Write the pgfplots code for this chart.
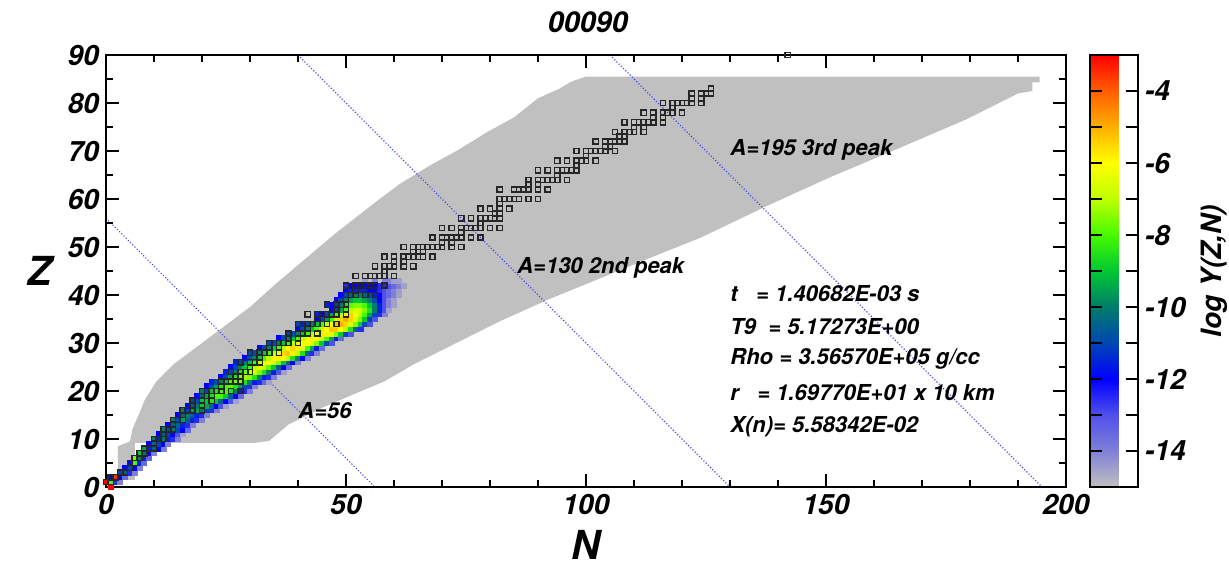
\documentclass[border=0pt]{standalone}
\usepackage{pgfplots}
\pgfplotsset{compat=1.18}
\usepackage{fontspec}
\setmainfont{TeX Gyre Heros}
\definecolor{netgray}{RGB}{192,192,192}
\newcommand{\txt}{\bfseries\itshape\fontsize{11}{13}\selectfont}
\begin{document}
\begin{tikzpicture}[font=\bfseries\itshape]
\begin{axis}[
 name=main,
 scale only axis, width=480pt, height=216pt,
 xmin=0,xmax=200,ymin=0,ymax=90,
 clip=false, axis on top,
 axis line style={line width=0.8pt},
 every tick/.style={black, line width=0.8pt},
 tick align=inside,
 xtick={0,50,...,200}, minor xtick={10,20,...,190},
 ytick={0,10,...,90}, minor ytick={5,15,...,85},
 major tick length=6.5pt, minor tick length=3.5pt,
 /pgf/number format/assume math mode=true,
 ticklabel style={font=\bfseries\itshape\fontsize{14}{16}\selectfont},
 xlabel={N}, ylabel={Z},
 label style={font=\bfseries\itshape\fontsize{20}{22}\selectfont},
 xlabel style={at={(axis description cs:0.5,-0.134)},anchor=center},
 ylabel style={at={(axis description cs:-0.069,0.5)},anchor=center,rotate=-90},
 title={00090},
 every axis title shift=0pt,
 title style={at={(axis description cs:0.502,1.076)},anchor=center,font=\bfseries\itshape\fontsize{14.4}{16}\selectfont},
 colormap={nucl}{rgb255(0cm)=(192,192,192); rgb255(1cm)=(128,128,215); rgb255(2cm)=(80,80,235); rgb255(3cm)=(0,0,255); rgb255(4cm)=(0,70,180); rgb255(5cm)=(0,125,105); rgb255(6cm)=(0,200,50); rgb255(7cm)=(70,250,0); rgb255(8cm)=(190,255,0); rgb255(9cm)=(255,255,0); rgb255(10cm)=(255,175,0); rgb255(11cm)=(255,95,0); rgb255(12cm)=(255,0,0)},
 point meta min=-15, point meta max=-3,
 colorbar,
 colorbar style={
   at={(parent axis.north east)}, anchor=north west, xshift=3.5pt,
   scale only axis, width=24pt, height=216pt,
   axis line style={line width=0.8pt},
   every tick/.style={black, line width=0.8pt},
   tick align=inside,
   ytick={-14,-12,...,-4}, minor ytick={-13,-11,...,-5},
   major tick length=6pt, minor tick length=6pt,
   ytick pos=both, yticklabel pos=right,
   /pgf/number format/assume math mode=true,
   yticklabel style={font=\bfseries\itshape\fontsize{14}{16}\selectfont},
   ylabel={log Y(Z,N)},
   ylabel style={at={(axis description cs:2.58,0.5)},anchor=center,font=\bfseries\itshape\fontsize{14}{16}\selectfont},
 },
]
% network (gray region)
\addplot[fill=netgray, draw=none] coordinates {
 (2.5,1.5) (2.5,8.5) (5,9.5) (5.5,12) (7,15.5) (8,18) (10.5,22) (14,25.5) (18,28.5)
 (22,31.5) (26,34.5) (30,37.5) (35,42) (39.7,46) (48,53) (57,60) (61,63)
 (67.5,67) (73,70) (79.5,74) (85,77) (90,81) (94.5,83) (97,84.5) (100,85.5)
 (194.5,85.5) (194.5,84.3) (193,84.3) (193,82.5) (190,82) (179,76.5) (165,70.5)
 (151,64.6) (138,58.7) (124,52) (114,48) (103,43.5) (92,39) (82,34.5) (70,28.5)
 (64,25.5) (58,22) (52,19.5) (45,16.5) (38,13) (34,9.6) (31,9.2) (6,9.2) (6,1.5)
} -- cycle;
% lines of constant A
\addplot[blue!75, densely dotted, line width=0.55pt] coordinates {(0,56) (56,0)};
\addplot[blue!75, densely dotted, line width=0.55pt] coordinates {(40,90) (130,0)};
\addplot[blue!75, densely dotted, line width=0.55pt] coordinates {(105,90) (195,0)};
% abundances log Y(Z,N)
\addplot[scatter, only marks, mark=square*, mark size=1.25pt, scatter src=explicit,
  scatter/use mapped color={draw=mapped color, fill=mapped color}] coordinates {
 (1,0)[-3]
 (0,1)[-3] (1,1)[-8] (2,1)[-12.5] (3,1)[-14]
 (1,2)[-12] (2,2)[-3.5] (3,2)[-12] (4,2)[-13.5]
 (3,3)[-11] (4,3)[-10.5] (5,3)[-12.5] (6,3)[-14]
 (4,4)[-12] (5,4)[-11] (6,4)[-12] (7,4)[-14]
 (5,5)[-12] (6,5)[-8] (7,5)[-11.5] (8,5)[-13.5]
 (6,6)[-7.5] (7,6)[-10] (8,6)[-11.5] (9,6)[-13.5]
 (7,7)[-9] (8,7)[-10] (9,7)[-12] (10,7)[-14]
 (8,8)[-9.5] (9,8)[-11.5] (10,8)[-10.5] (11,8)[-12] (12,8)[-14]
 (9,9)[-12] (10,9)[-10.5] (11,9)[-11] (12,9)[-12] (13,9)[-14]
 (10,10)[-10] (11,10)[-11.5] (12,10)[-10] (13,10)[-11.5] (14,10)[-12.5] (15,10)[-14]
 (11,11)[-12] (12,11)[-10.5] (13,11)[-11] (14,11)[-12] (15,11)[-13] (16,11)[-14.5]
 (12,12)[-10] (13,12)[-11] (14,12)[-10] (15,12)[-11] (16,12)[-12] (17,12)[-13.5]
 (13,13)[-12] (14,13)[-10.5] (15,13)[-10.5] (16,13)[-11.5] (17,13)[-12.5] (18,13)[-14]
 (14,14)[-10] (15,14)[-11] (16,14)[-9.5] (17,14)[-10.5] (18,14)[-11.5] (19,14)[-12.5] (20,14)[-14]
 (15,15)[-12] (16,15)[-10.5] (17,15)[-10] (18,15)[-10.5] (19,15)[-11.5] (20,15)[-12.5] (21,15)[-14]
 (16,16)[-10] (17,16)[-11] (18,16)[-9.5] (19,16)[-9.5] (20,16)[-10] (21,16)[-11] (22,16)[-12.5] (23,16)[-14]
 (17,17)[-12] (18,17)[-10.5] (19,17)[-10] (20,17)[-9] (21,17)[-9.5] (22,17)[-10.5] (23,17)[-12] (24,17)[-13] (25,17)[-14.5]
 (18,18)[-11] (19,18)[-11] (20,18)[-9] (21,18)[-9] (22,18)[-8.5] (23,18)[-9] (24,18)[-10.5] (25,18)[-12] (26,18)[-13] (27,18)[-14.5]
 (19,19)[-12] (20,19)[-10.5] (21,19)[-9.5] (22,19)[-8.5] (23,19)[-8] (24,19)[-8] (25,19)[-9] (26,19)[-10.5] (27,19)[-12] (28,19)[-13.5]
 (20,20)[-10] (21,20)[-11] (22,20)[-9] (23,20)[-8.5] (24,20)[-8] (25,20)[-8] (26,20)[-8.5] (27,20)[-10] (28,20)[-11.5] (29,20)[-12.5] (30,20)[-14]
 (21,21)[-12] (22,21)[-11] (23,21)[-9.5] (24,21)[-8.5] (25,21)[-8] (26,21)[-7.8] (27,21)[-8.5] (28,21)[-9.5] (29,21)[-11] (30,21)[-12.5] (31,21)[-14]
 (22,22)[-11.5] (23,22)[-11] (24,22)[-10] (25,22)[-9] (26,22)[-8] (27,22)[-7.5] (28,22)[-7.5] (29,22)[-8.5] (30,22)[-10] (31,22)[-11.5] (32,22)[-12.5] (33,22)[-13.5] (34,22)[-14.5]
 (24,23)[-12] (25,23)[-11] (26,23)[-9.5] (27,23)[-8.5] (28,23)[-7.5] (29,23)[-7.2] (30,23)[-7.5] (31,23)[-8.5] (32,23)[-10] (33,23)[-11.5] (34,23)[-12.5] (35,23)[-14]
 (25,24)[-11.5] (26,24)[-11] (27,24)[-10] (28,24)[-8.5] (29,24)[-7.5] (30,24)[-7] (31,24)[-6.8] (32,24)[-7.5] (33,24)[-8.5] (34,24)[-10] (35,24)[-11.5] (36,24)[-13] (37,24)[-14.5]
 (26,25)[-12] (27,25)[-11] (28,25)[-10] (29,25)[-9] (30,25)[-8] (31,25)[-7] (32,25)[-6.5] (33,25)[-6.8] (34,25)[-7.8] (35,25)[-9] (36,25)[-10.5] (37,25)[-12] (38,25)[-13.5]
 (27,26)[-11.5] (28,26)[-11] (29,26)[-10] (30,26)[-9] (31,26)[-8] (32,26)[-7] (33,26)[-6.3] (34,26)[-6] (35,26)[-6.5] (36,26)[-7.5] (37,26)[-9] (38,26)[-10.5] (39,26)[-12] (40,26)[-14]
 (29,27)[-12] (30,27)[-11] (31,27)[-10] (32,27)[-9] (33,27)[-8] (34,27)[-7] (35,27)[-6.2] (36,27)[-5.8] (37,27)[-6] (38,27)[-7] (39,27)[-8.5] (40,27)[-10] (41,27)[-12] (42,27)[-14]
 (30,28)[-11] (31,28)[-11] (32,28)[-10] (33,28)[-9] (34,28)[-8] (35,28)[-7] (36,28)[-6.3] (37,28)[-5.5] (38,28)[-5.3] (39,28)[-5.8] (40,28)[-7] (41,28)[-8.5] (42,28)[-10.5] (43,28)[-12.5] (44,28)[-14]
 (32,29)[-12] (33,29)[-11] (34,29)[-10] (35,29)[-9] (36,29)[-8] (37,29)[-7] (38,29)[-6] (39,29)[-5.5] (40,29)[-5.8] (41,29)[-6.5] (42,29)[-8] (43,29)[-9.5] (44,29)[-11.5] (45,29)[-13.5]
 (34,30)[-11] (35,30)[-11] (36,30)[-10] (37,30)[-9] (38,30)[-8] (39,30)[-7] (40,30)[-6.3] (41,30)[-6] (42,30)[-6] (43,30)[-6.5] (44,30)[-7.5] (45,30)[-9] (46,30)[-11] (47,30)[-13]
 (36,31)[-12] (37,31)[-11] (38,31)[-10] (39,31)[-9] (40,31)[-8] (41,31)[-7] (42,31)[-6.3] (43,31)[-5.8] (44,31)[-6] (45,31)[-6.8] (46,31)[-8] (47,31)[-9.5] (48,31)[-11.5] (49,31)[-13.5]
 (38,32)[-11] (39,32)[-11] (40,32)[-10] (41,32)[-9] (42,32)[-8] (43,32)[-7] (44,32)[-6.2] (45,32)[-5.8] (46,32)[-5.8] (47,32)[-6.5] (48,32)[-7.5] (49,32)[-9] (50,32)[-11] (51,32)[-13]
 (40,33)[-12] (41,33)[-11] (42,33)[-10] (43,33)[-9] (44,33)[-8] (45,33)[-7] (46,33)[-6] (47,33)[-5.3] (48,33)[-5.3] (49,33)[-6] (50,33)[-7] (51,33)[-8.5] (52,33)[-10.5] (53,33)[-12.5]
 (40,34)[-11] (41,34)[-11.5] (42,34)[-11] (43,34)[-10] (44,34)[-9] (45,34)[-8] (46,34)[-7] (47,34)[-6] (48,34)[-5.2] (49,34)[-5] (50,34)[-5.5] (51,34)[-6.5] (52,34)[-7.5] (53,34)[-9] (54,34)[-11] (55,34)[-13]
 (44,35)[-12] (45,35)[-11] (46,35)[-9.5] (47,35)[-8] (48,35)[-6.8] (49,35)[-5.5] (50,35)[-5] (51,35)[-5.5] (52,35)[-6.5] (53,35)[-7.5] (54,35)[-9] (55,35)[-11] (56,35)[-13]
 (44,36)[-11.5] (45,36)[-12] (46,36)[-11] (47,36)[-9.5] (48,36)[-8] (49,36)[-6.8] (50,36)[-5.8] (51,36)[-5.5] (52,36)[-6] (53,36)[-7] (54,36)[-8] (55,36)[-9.5] (56,36)[-11] (57,36)[-12.5] (58,36)[-14]
 (47,37)[-12] (48,37)[-11] (49,37)[-9.5] (50,37)[-8] (51,37)[-7] (52,37)[-6.5] (53,37)[-6.8] (54,37)[-7.5] (55,37)[-8.5] (56,37)[-10] (57,37)[-11.5] (58,37)[-13] (59,37)[-14.5]
 (46,38)[-11.5] (47,38)[-12] (48,38)[-11] (49,38)[-10] (50,38)[-8.5] (51,38)[-7.8] (52,38)[-7.5] (53,38)[-7.5] (54,38)[-8] (55,38)[-9] (56,38)[-10] (57,38)[-11.5] (58,38)[-13] (59,38)[-14] (60,38)[-14.5]
 (48,39)[-12] (49,39)[-11] (50,39)[-10] (51,39)[-9.5] (52,39)[-9] (53,39)[-9] (54,39)[-9.5] (55,39)[-10] (56,39)[-11] (57,39)[-12] (58,39)[-13] (59,39)[-14] (60,39)[-14.5]
 (49,40)[-12] (50,40)[-11] (51,40)[-10.5] (52,40)[-10] (53,40)[-10] (54,40)[-10.5] (55,40)[-11] (56,40)[-11.5] (57,40)[-12] (58,40)[-13] (59,40)[-13.5] (60,40)[-14] (61,40)[-14.5]
 (50,41)[-12] (51,41)[-11.5] (52,41)[-11.5] (53,41)[-11.5] (54,41)[-11.5] (55,41)[-12] (56,41)[-12] (57,41)[-12.5] (58,41)[-13] (59,41)[-13.5] (60,41)[-14] (61,41)[-14.5]
 (50,42)[-12.5] (51,42)[-12] (52,42)[-12] (53,42)[-12] (54,42)[-12] (55,42)[-12] (56,42)[-12] (57,42)[-12.5] (58,42)[-12.5] (59,42)[-13] (60,42)[-13.5] (61,42)[-14] (62,42)[-14.5]
 (54,43)[-14.5] (56,43)[-14] (58,43)[-14] (59,43)[-14] (60,43)[-14.5] (61,43)[-14.5]
};
% stable nuclei
\addplot[only marks, mark=square, mark size=1.3pt, draw=black!85, mark options={line width=0.7pt}] coordinates {
 (0,1) (1,1) (1,2) (2,2) (3,3) (4,3) (5,4) (5,5) (6,5) (6,6) (7,6) (7,7) (8,7)
 (8,8) (9,8) (10,8) (10,9) (10,10) (11,10) (12,10) (12,11) (12,12) (13,12) (14,12)
 (14,13) (14,14) (15,14) (16,14) (16,15) (16,16) (17,16) (18,16) (20,16) (18,17) (20,17)
 (18,18) (20,18) (22,18) (20,19) (21,19) (22,19)
 (20,20) (22,20) (23,20) (24,20) (26,20) (28,20) (24,21)
 (24,22) (25,22) (26,22) (27,22) (28,22) (27,23) (28,23)
 (26,24) (28,24) (29,24) (30,24) (30,25) (28,26) (30,26) (31,26) (32,26) (32,27)
 (30,28) (32,28) (33,28) (34,28) (36,28) (34,29) (36,29)
 (34,30) (36,30) (37,30) (38,30) (40,30) (38,31) (40,31)
 (38,32) (40,32) (41,32) (42,32) (44,32) (42,33)
 (40,34) (42,34) (43,34) (44,34) (46,34) (48,34) (44,35) (46,35)
 (42,36) (44,36) (46,36) (47,36) (48,36) (50,36) (48,37) (50,37)
 (46,38) (48,38) (49,38) (50,38) (50,39)
 (50,40) (51,40) (52,40) (54,40) (56,40) (52,41)
 (50,42) (52,42) (53,42) (54,42) (55,42) (56,42) (58,42)
 (52,44) (54,44) (55,44) (56,44) (57,44) (58,44) (60,44) (58,45)
 (56,46) (58,46) (59,46) (60,46) (62,46) (64,46) (60,47) (62,47)
 (58,48) (60,48) (62,48) (63,48) (64,48) (65,48) (66,48) (68,48) (64,49) (66,49)
 (62,50) (64,50) (65,50) (66,50) (67,50) (68,50) (69,50) (70,50) (72,50) (74,50)
 (70,51) (72,51)
 (68,52) (70,52) (71,52) (72,52) (73,52) (74,52) (76,52) (78,52) (74,53)
 (70,54) (72,54) (74,54) (75,54) (76,54) (77,54) (78,54) (80,54) (82,54) (78,55)
 (74,56) (76,56) (78,56) (79,56) (80,56) (81,56) (82,56) (81,57) (82,57)
 (78,58) (80,58) (82,58) (84,58) (82,59)
 (82,60) (83,60) (84,60) (85,60) (86,60) (88,60) (90,60)
 (82,62) (85,62) (86,62) (87,62) (88,62) (90,62) (92,62) (88,63) (90,63)
 (88,64) (90,64) (91,64) (92,64) (93,64) (94,64) (96,64) (94,65)
 (90,66) (92,66) (94,66) (95,66) (96,66) (97,66) (98,66) (98,67)
 (94,68) (96,68) (98,68) (99,68) (100,68) (102,68) (100,69)
 (98,70) (100,70) (101,70) (102,70) (103,70) (104,70) (106,70) (104,71) (105,71)
 (102,72) (104,72) (105,72) (106,72) (107,72) (108,72) (107,73) (108,73)
 (106,74) (108,74) (109,74) (110,74) (112,74) (110,75) (112,75)
 (108,76) (110,76) (111,76) (112,76) (113,76) (114,76) (116,76) (114,77) (116,77)
 (112,78) (114,78) (116,78) (117,78) (118,78) (120,78) (118,79)
 (116,80) (118,80) (119,80) (120,80) (121,80) (122,80) (124,80) (122,81) (124,81)
 (122,82) (124,82) (125,82) (126,82) (126,83) (142,90)
};
% annotations
\node[anchor=west, inner sep=0pt, font=\txt] at (axis cs:130,70.2) {A=195 3rd peak};
\node[anchor=west, inner sep=0pt, font=\txt] at (axis cs:85.6,45.6) {A=130 2nd peak};
\node[anchor=west, inner sep=0pt, font=\txt] at (axis cs:40,16) {A=56};
\node[anchor=west, inner sep=0pt, font=\txt] at (axis cs:130,40.4) {t\ \ \ = 1.40682E-03 s};
\node[anchor=west, inner sep=0pt, font=\txt] at (axis cs:130,33.5) {T9\ \ = 5.17273E+00};
\node[anchor=west, inner sep=0pt, font=\txt] at (axis cs:130,26.6) {Rho = 3.56570E+05 g/cc};
\node[anchor=west, inner sep=0pt, font=\txt] at (axis cs:130,19.6) {r\ \ \ = 1.69770E+01 x 10 km};
\node[anchor=west, inner sep=0pt, font=\txt] at (axis cs:130,12.6) {X(n)= 5.58342E-02};
\end{axis}
\pgfresetboundingbox
\path (main.south west) ++(-53pt,-39.5pt) rectangle ++(614.5pt,283pt);
\end{tikzpicture}
\end{document}
